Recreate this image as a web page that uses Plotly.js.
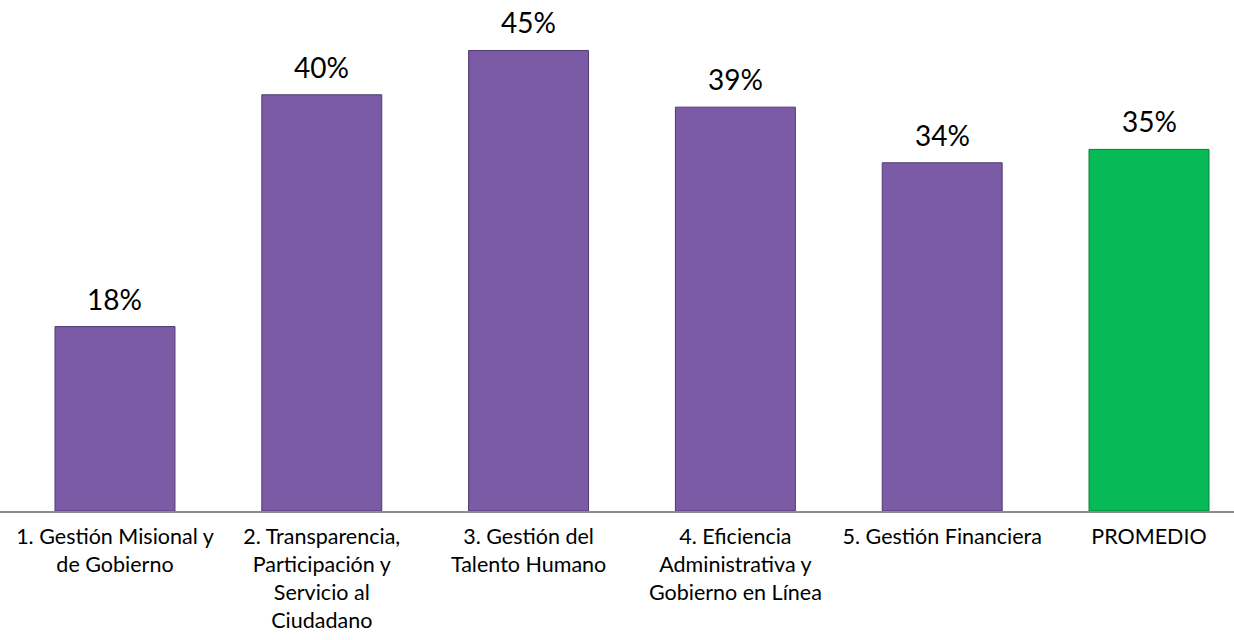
<!DOCTYPE html>
<html>
<head>
<meta charset="utf-8">
<script src="https://cdn.plot.ly/plotly-3.0.1.min.js"></script>
<style>html,body{margin:0;padding:0;background:#fff;}#chart{width:1234px;height:640px;}</style>
</head>
<body>
<div id="chart"></div>
<script>
const categories = [
  "1. Gestión Misional y<br>de Gobierno",
  "2. Transparencia,<br>Participación y<br>Servicio al<br>Ciudadano",
  "3. Gestión del<br>Talento Humano",
  "4. Eficiencia<br>Administrativa y<br>Gobierno en Línea",
  "5. Gestión Financiera",
  "PROMEDIO"
];
const values = [17.9, 40.4, 44.7, 39.2, 33.8, 35.1];
const barColors = ["#7b5aa6", "#7b5aa6", "#7b5aa6", "#7b5aa6", "#7b5aa6", "#06ba55"];
const lineColors = ["#4e3a6e", "#4e3a6e", "#4e3a6e", "#4e3a6e", "#4e3a6e", "#04803b"];

const trace = {
  type: "bar",
  x: categories,
  y: values,
  width: 0.58,
  marker: { color: barColors, line: { color: lineColors, width: 1 } },
  hoverinfo: "skip"
};

const annotations = categories.map((c, i) => ({
  x: c, y: values[i], xref: "x", yref: "y",
  text: Math.round(values[i]) + "%", showarrow: false,
  yanchor: "bottom", yshift: 9,
  font: { family: "Lato, 'Open Sans', sans-serif", size: 28, color: "#000" }
}));

const layout = {
  width: 1234, height: 640,
  margin: { l: 0, r: 0, t: 0, b: 129, pad: 0 },
  paper_bgcolor: "#fff", plot_bgcolor: "#fff",
  showlegend: false,
  xaxis: {
    type: "category",
    range: [-0.556, 5.411],
    showline: true, linecolor: "#8c8c8c", linewidth: 1.5,
    ticks: "", showgrid: false, zeroline: false,
    tickfont: { family: "Lato, 'Open Sans', sans-serif", size: 21.5, color: "#000" },
    ticklabelstandoff: 6
  },
  yaxis: {
    range: [0, 49.6], visible: false, showgrid: false, zeroline: false
  },
  annotations: annotations
};

Plotly.newPlot("chart", [trace], layout, { displayModeBar: false, staticPlot: true });
</script>
</body>
</html>
